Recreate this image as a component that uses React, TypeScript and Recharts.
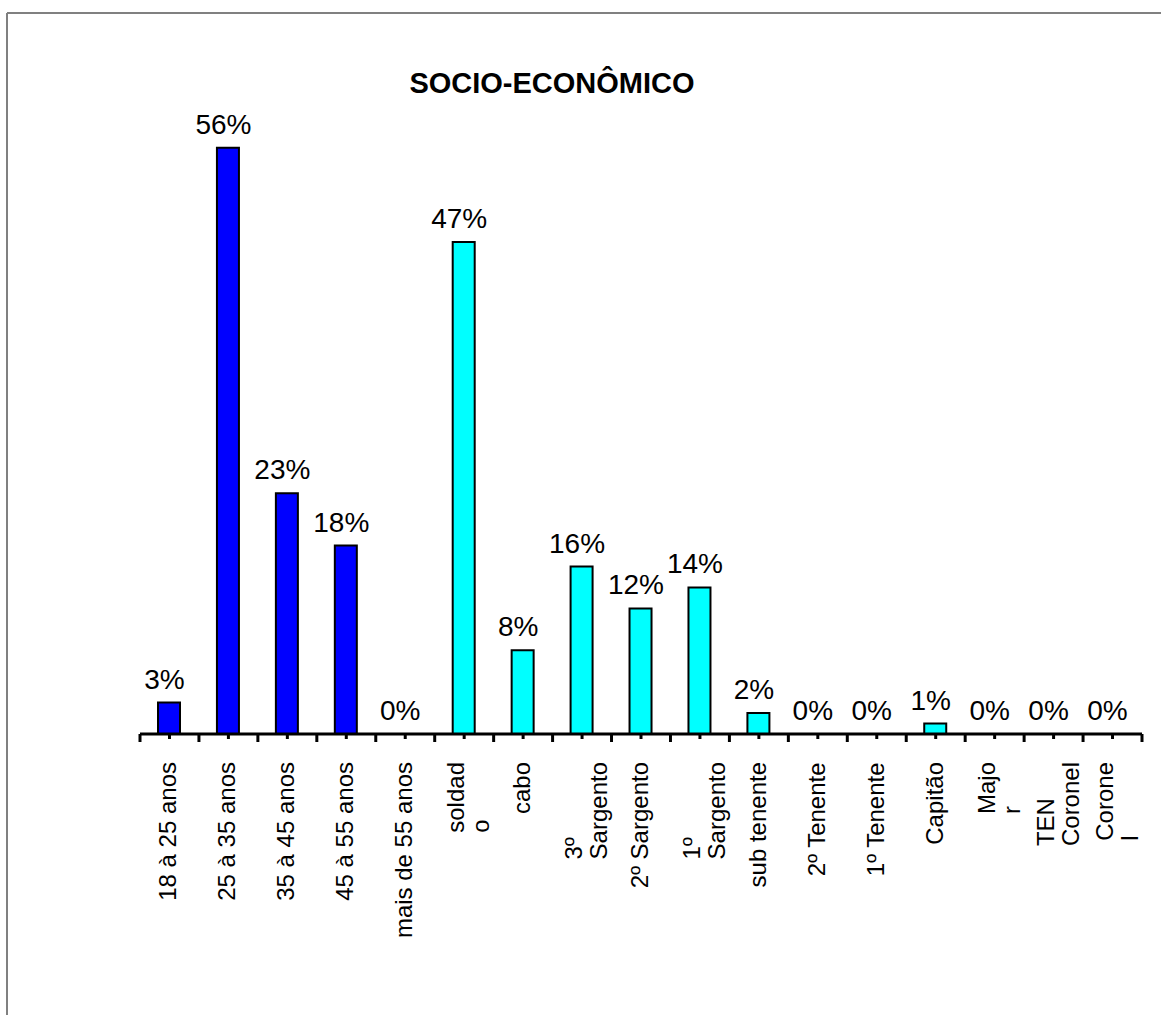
import React from 'react';
import { ComposedChart, Bar, Line, XAxis, YAxis, Cell, LabelList } from 'recharts';

// ---- data ----
const ageCategories = ['18 à 25 anos', '25 à 35 anos', '35 à 45 anos', '45 à 55 anos', 'mais de 55 anos'];
const ageValues = [3, 56, 23, 18, 0];
const rankCategories = [
  'soldad\no', 'cabo', '3º\nSargento', '2º Sargento', '1º\nSargento', 'sub tenente',
  '2º Tenente', '1º Tenente', 'Capitão', 'Majo\nr', 'TEN\nCoronel', 'Corone\nl',
];
const rankValues = [47, 8, 16, 12, 14, 2, 0, 0, 1, 0, 0, 0];
const yDomain = [0, 60];
const chartTitle = 'SOCIO-ECONÔMICO';

const ageColor = '#0000FF';
const rankColor = '#00FFFF';

const data = [
  ...ageCategories.map((name, i) => ({ name, value: ageValues[i], group: 'age' })),
  ...rankCategories.map((name, i) => ({ name, value: rankValues[i], group: 'rank' })),
];

// ---- layout ----
const W = 1161;
const H = 1015;
const M = { top: 106, right: 19, bottom: 251, left: 140 };
const X_AXIS_H = 30;
const AXIS_Y = H - M.bottom - X_AXIS_H;
const BAND = (W - M.left - M.right) / data.length;
const LABEL_TOP = 762;
const FONT = "'Liberation Sans', Arial, Helvetica, sans-serif";
const TICK_FS = 24;

let ctx: CanvasRenderingContext2D | null = null;
const measure = (s: string) => {
  if (!ctx) {
    const c = document.createElement('canvas');
    ctx = c.getContext('2d');
  }
  if (!ctx) return s.length * TICK_FS * 0.5;
  ctx.font = `${TICK_FS}px 'Liberation Sans', Arial, sans-serif`;
  return ctx.measureText(s).width;
};

const CategoryTick = (props: any) => {
  const { x, payload, index } = props;
  const cx = x;
  const lines = String(payload.value).split('\n');
  const maxW = Math.max(...lines.map(measure));
  const bottom = LABEL_TOP + maxW;
  const n = lines.length;
  const isLast = index === data.length - 1;
  return (
    <g>
      <line x1={cx} x2={cx} y1={AXIS_Y} y2={AXIS_Y + 5} stroke="#000" strokeWidth={3} />
      <line x1={cx - BAND / 2} x2={cx - BAND / 2} y1={AXIS_Y} y2={AXIS_Y + 8} stroke="#000" strokeWidth={3} />
      {isLast && (
        <line x1={cx + BAND / 2} x2={cx + BAND / 2} y1={AXIS_Y} y2={AXIS_Y + 8} stroke="#000" strokeWidth={3} />
      )}
      {lines.map((l, k) => (
        <text
          key={k}
          transform={`translate(${cx + (n === 1 ? 7 : 0) + k * 25},${bottom}) rotate(-90)`}
          textAnchor="start"
          fontSize={TICK_FS}
          fontFamily={FONT}
          fill="#000"
        >
          {l}
        </text>
      ))}
    </g>
  );
};

const ValueLabel = (props: any) => {
  const { x, y, value } = props;
  if (x == null || y == null) return null;
  return (
    <text x={x - 5} y={y - 14} textAnchor="middle" fontSize={28} fontFamily={FONT} fill="#000">
      {`${value}%`}
    </text>
  );
};

export default function App() {
  return (
    <div style={{ position: 'absolute', left: 0, top: 0, width: W, height: H, background: '#fff', overflow: 'hidden' }}>
      <ComposedChart width={W} height={H} data={data} margin={M} barCategoryGap={0}>
        <YAxis hide domain={yDomain} type="number" />
        <XAxis
          dataKey="name"
          interval={0}
          height={X_AXIS_H}
          tickLine={false}
          axisLine={{ stroke: '#000', strokeWidth: 3 }}
          tick={<CategoryTick />}
        />
        <Bar dataKey="value" barSize={22} stroke="#000" strokeWidth={2} isAnimationActive={false}>
          {data.map((d, i) => (
            <Cell key={i} fill={d.group === 'age' ? ageColor : rankColor} />
          ))}
        </Bar>
        <Line
          dataKey="value"
          stroke="none"
          strokeOpacity={0}
          dot={false}
          activeDot={false}
          legendType="none"
          isAnimationActive={false}
        >
          <LabelList dataKey="value" content={<ValueLabel />} />
        </Line>
      </ComposedChart>
      <svg width={W} height={H} style={{ position: 'absolute', left: 0, top: 0, pointerEvents: 'none' }}>
        <line x1={7} y1={13} x2={W} y2={13} stroke="#808080" strokeWidth={2} />
        <line x1={7} y1={13} x2={7} y2={H} stroke="#808080" strokeWidth={2} />
        <text x={552} y={93} textAnchor="middle" fontSize={29} fontWeight="bold" fontFamily={FONT} fill="#000">
          {chartTitle}
        </text>
      </svg>
    </div>
  );
}
